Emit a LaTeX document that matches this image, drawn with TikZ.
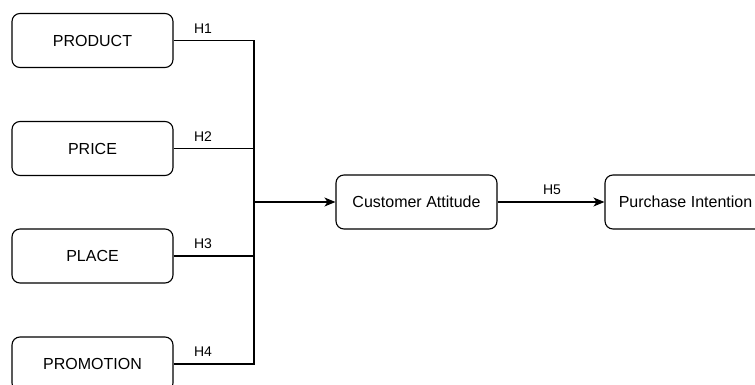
\documentclass[tikz,border=0pt]{standalone}
\usepackage{fontspec}
\setmainfont{Liberation Sans}
\usetikzlibrary{arrows.meta}

\begin{document}
\begin{tikzpicture}[
  x=1pt, y=-1pt,
  font=\fontsize{16}{19}\selectfont,
  block/.style={draw=black, line width=1.1pt, rounded corners=8pt, minimum width=161pt, minimum height=54pt, inner sep=0pt},
  edge/.style={draw=black, line width=1.1pt},
  hlabel/.style={font=\fontsize{14}{16}\selectfont}
]
\useasboundingbox (0,0) rectangle (755,385);

\node[block] (product)   at (92.5, 40.5)  {PRODUCT};
\node[block] (price)     at (92.5, 148.5) {PRICE};
\node[block] (place)     at (92.5, 256)   {PLACE};
\node[block] (promotion) at (92.5, 364)   {PROMOTION};
\node[block] (attitude)  at (416.5, 202)  {Customer Attitude};
\node[block] (intention) at (685.5, 202)  {Purchase Intention};

\coordinate (top) at (254, 40.5);
\coordinate (bot) at (254, 364);
\coordinate (join) at (254, 202);

\draw[edge] (product.east) -- (top) -- (bot) -- (promotion.east);
\draw[edge] (price.east) -- (price.east -| top);
\draw[edge] (place.east) -- (place.east -| top);
\draw[edge, -{Stealth[length=11pt, width=9pt, inset=3pt]}] (join) -- (attitude.west);
\draw[edge, -{Stealth[length=11pt, width=9pt, inset=3pt]}] (attitude.east) -- (intention.west);

\node[hlabel] (h1) at (203, 29)  {H1};
\node[hlabel] (h2) at (203, 137) {H2};
\node[hlabel] (h3) at (203, 244) {H3};
\node[hlabel] (h4) at (203, 352) {H4};
\node[hlabel] (h5) at (552, 190) {H5};
\end{tikzpicture}
\end{document}
